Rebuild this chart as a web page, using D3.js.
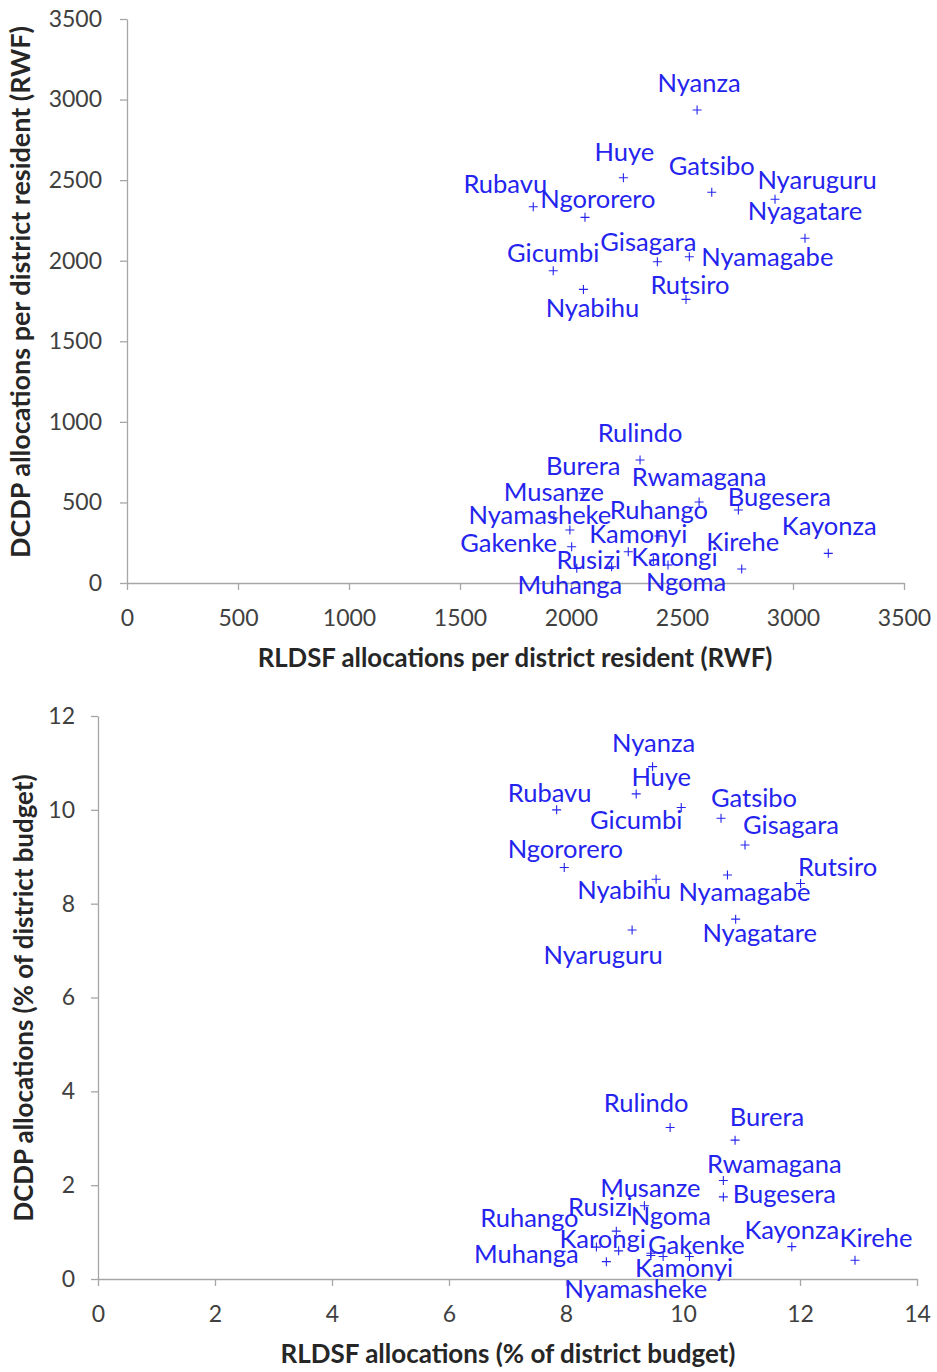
<!DOCTYPE html>
<html><head><meta charset="utf-8">
<script src="https://cdn.jsdelivr.net/npm/d3@7"></script>
<style>
html,body{margin:0;padding:0;background:#fff;}
svg text{font-family:Lato,"Open Sans",sans-serif;}
</style></head>
<body>
<svg id="chart" width="937" height="1372"></svg>
<script>
// ---------- Data: chart 1 (per district resident, RWF) ----------
const districtsTop = ["Nyanza","Huye","Gatsibo","Nyaruguru","Rubavu","Ngororero","Nyagatare","Gisagara","Nyamagabe","Gicumbi","Nyabihu","Rutsiro",
  "Rulindo","Burera","Rwamagana","Bugesera","Kayonza","Kirehe","Musanze","Nyamasheke","Gakenke","Ruhango","Kamonyi","Rusizi","Muhanga","Karongi","Ngoma"];
const rldsfPerResident = [2568,2236,2634,2919,1830,2063,3054,2389,2533,1920,2056,2518,
  2311,2055,2577,2754,3159,2769,1923,1995,2003,2396,2258,2183,2026,2371,2437];
const dcdpPerResident = [2935,2515,2425,2381,2335,2269,2139,1994,2025,1938,1822,1760,
  763,557,503,453,184,87,403,329,225,292,194,101,91,143,112];
const ticksTopX = [0,500,1000,1500,2000,2500,3000,3500];
const ticksTopY = [0,500,1000,1500,2000,2500,3000,3500];

// ---------- Data: chart 2 (% of district budget) ----------
const districtsBottom = ["Nyanza","Huye","Gicumbi","Rubavu","Gatsibo","Gisagara","Ngororero","Rutsiro","Nyabihu","Nyamagabe","Nyagatare","Nyaruguru",
  "Rulindo","Burera","Rwamagana","Bugesera","Musanze","Kayonza","Kirehe","Rusizi","Karongi","Ruhango","Muhanga","Ngoma","Kamonyi","Gakenke","Nyamasheke"];
const rldsfPct = [9.48,9.97,9.20,7.84,10.65,11.06,7.97,12.01,9.54,10.76,10.90,9.13,
  9.78,10.89,10.69,10.69,9.34,11.86,12.94,8.86,8.90,8.52,8.69,9.45,9.66,10.11,9.45];
const dcdpPct = [10.92,10.05,10.34,10.00,9.82,9.25,8.77,8.43,8.52,8.61,7.67,7.44,
  3.23,2.96,2.10,1.75,1.56,0.69,0.40,1.02,0.60,0.68,0.37,0.55,0.48,0.48,0.50];
const ticksBottomX = [0,2,4,6,8,10,12,14];
const ticksBottomY = [0,2,4,6,8,10,12];

// ---------- Layout (label placement, px offsets from marker) ----------
const labelOffsetTop = {
  Nyanza:[2,-27],Huye:[1,-26],Gatsibo:[0,-26],Nyaruguru:[42,-19],Rubavu:[-28,-23],Ngororero:[13,-19],
  Nyagatare:[0,-27],Gisagara:[-9,-20],Nyamagabe:[78,0],Gicumbi:[0,-18],Nyabihu:[9,18],Rutsiro:[4,-15],
  Rulindo:[0,-27],Burera:[0,-27],Rwamagana:[0,-25],Bugesera:[41,-13],Kayonza:[1,-28],Kirehe:[1,-27],
  Musanze:[0,-26],Nyamasheke:[-30,-15],Gakenke:[-63,-4],Ruhango:[0,-26],Kamonyi:[10,-18],Rusizi:[-23,-7],
  Muhanga:[-7,16],Karongi:[21,-3],Ngoma:[18,17]
};
const labelOffsetBottom = {
  Nyanza:[1,-24],Huye:[-20,-31],Gicumbi:[0,26],Rubavu:[-7,-17],Gatsibo:[33,-20],Gisagara:[46,-20],
  Ngororero:[1,-19],Rutsiro:[37,-17],Nyabihu:[-32,11],Nyamagabe:[17,17],Nyagatare:[24,14],Nyaruguru:[-29,25],
  Rulindo:[-24,-25],Burera:[32,-23],Rwamagana:[51,-17],Bugesera:[61,-3],Musanze:[6,-18],Kayonza:[0,-17],
  Kirehe:[21,-22],Rusizi:[-16,-24],Karongi:[-16,-12],Ruhango:[-67,-29],Muhanga:[-80,-8],Ngoma:[20,-37],
  Kamonyi:[21,11],Gakenke:[7,-12],Nyamasheke:[-15,33]
};

const svg = d3.select("#chart");
const AXIS = "#a6a6a6", TICKTXT = "#404040", BLUE = "#2424ee";

function fitText(sel, target){
  const n = sel.node();
  const w = n.getComputedTextLength();
  const fs = parseFloat(sel.attr("font-size"));
  if (w > 0) sel.attr("font-size", (fs * target / w).toFixed(2));
}

function drawChart(cfg){
  const x = d3.scaleLinear().domain(cfg.xDomain).range([cfg.left, cfg.right]);
  const y = d3.scaleLinear().domain(cfg.yDomain).range([cfg.bottom, cfg.top]);
  const g = svg.append("g");
  const fmt = d3.format("d");

  const xAxis = d3.axisBottom(x).tickValues(cfg.xTicks).tickFormat(fmt).tickSize(7).tickPadding(20).tickSizeOuter(0);
  const gx = g.append("g").attr("transform", `translate(0,${cfg.bottom})`).call(xAxis);
  const yAxis = d3.axisLeft(y).tickValues(cfg.yTicks).tickFormat(fmt).tickSize(7).tickPadding(cfg.yPad).tickSizeOuter(0);
  const gy = g.append("g").attr("transform", `translate(${cfg.left},0)`).call(yAxis);
  [gx, gy].forEach(a => {
    a.select(".domain").attr("stroke", AXIS).attr("stroke-width", 1.3);
    a.selectAll(".tick line").attr("stroke", AXIS).attr("stroke-width", 1.3);
    a.selectAll(".tick text").attr("fill", TICKTXT).attr("font-size", 23)
      .attr("font-family", "Lato, sans-serif");
  });
  gx.selectAll(".tick text").attr("dy", "0.71em");

  // axis titles
  const xt = g.append("text").attr("x", cfg.xTitlePos[0]).attr("y", cfg.xTitlePos[1])
    .attr("text-anchor", "middle").attr("font-weight", "bold").attr("font-size", 22)
    .attr("fill", "#262626").text(cfg.xTitle);
  fitText(xt, cfg.xTitleW);
  const yt = g.append("text")
    .attr("transform", `translate(${cfg.yTitlePos[0]},${cfg.yTitlePos[1]}) rotate(-90)`)
    .attr("text-anchor", "middle").attr("font-weight", "bold").attr("font-size", 22)
    .attr("fill", "#262626").text(cfg.yTitle);
  fitText(yt, cfg.yTitleW);

  const pts = cfg.names.map((n, i) => ({name: n, xv: cfg.xs[i], yv: cfg.ys[i]}));

  // markers "+"
  g.append("g").selectAll("path").data(pts).join("path")
    .attr("d", d => {
      const cx = x(d.xv), cy = y(d.yv), s = 4.5;
      return `M${cx - s},${cy}H${cx + s}M${cx},${cy - s}V${cy + s}`;
    })
    .attr("stroke", BLUE).attr("stroke-width", 1.1).attr("fill", "none");

  // labels
  g.append("g").selectAll("text").data(pts).join("text")
    .attr("x", d => x(d.xv) + cfg.offsets[d.name][0])
    .attr("y", d => y(d.yv) + cfg.offsets[d.name][1])
    .attr("dy", "0.36em")
    .attr("text-anchor", "middle")
    .attr("font-size", 25.5)
    .attr("fill", BLUE)
    .text(d => d.name);
}

drawChart({
  xDomain:[0,3500], yDomain:[0,3500], left:127, right:904, top:19, bottom:583,
  xTicks:ticksTopX, yTicks:ticksTopY, yPad:18,
  names:districtsTop, xs:rldsfPerResident, ys:dcdpPerResident, offsets:labelOffsetTop,
  xTitle:"RLDSF allocations per district resident (RWF)", xTitlePos:[515,667], xTitleW:515,
  yTitle:"DCDP allocations per district resident (RWF)", yTitlePos:[30,292], yTitleW:532
});

drawChart({
  xDomain:[0,14], yDomain:[0,12], left:98, right:917, top:716, bottom:1279,
  xTicks:ticksBottomX, yTicks:ticksBottomY, yPad:16,
  names:districtsBottom, xs:rldsfPct, ys:dcdpPct, offsets:labelOffsetBottom,
  xTitle:"RLDSF allocations (% of district budget)", xTitlePos:[508,1363], xTitleW:455,
  yTitle:"DCDP allocations (% of district budget)", yTitlePos:[33,998], yTitleW:447
});
</script>
</body></html>
